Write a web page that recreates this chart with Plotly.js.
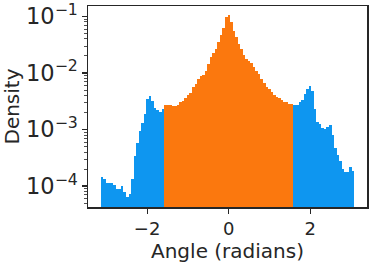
<!DOCTYPE html>
<html>
<head>
<meta charset="utf-8">
<script src="https://cdn.plot.ly/plotly-3.0.1.min.js"></script>
<style>
  html, body { margin: 0; padding: 0; background: #fff; }
  #chart { width: 373px; height: 268px; }
</style>
</head>
<body>
<div id="chart"></div>
<script>
// histogram of angles, 100 equal bins from binStart
const binStart = -3.14
const binWidth = 0.0622

// density per bin
const density = [
    1.45e-4, 1.35e-4, 1.12e-4, 1.12e-4, 1.15e-4, 1.05e-4, 8.9e-5, 8.9e-5, 1.0e-4, 7.8e-5,
    6.3e-5, 7.1e-5, 1.32e-4, 3.39e-4, 5.9e-4, 9.3e-4, 1.32e-3, 1.91e-3, 3.47e-3, 3.89e-3,
    3.24e-3, 2.40e-3, 2.19e-3, 2.04e-3, 2.34e-3,
    2.69e-3, 2.75e-3, 2.75e-3, 2.57e-3, 2.63e-3, 2.69e-3, 3.02e-3, 3.16e-3, 3.55e-3, 4.07e-3,
    4.47e-3, 5.62e-3, 6.46e-3, 7.76e-3, 8.71e-3, 9.12e-3, 1.10e-2, 1.45e-2, 1.91e-2, 2.24e-2,
    2.63e-2, 3.47e-2, 4.79e-2, 6.17e-2, 9.77e-2, 0.105, 7.94e-2, 5.62e-2, 4.27e-2, 3.31e-2,
    2.69e-2, 2.04e-2, 1.74e-2, 1.62e-2, 1.48e-2, 1.29e-2, 1.10e-2, 9.55e-3, 7.94e-3, 6.61e-3,
    5.75e-3, 5.25e-3, 4.68e-3, 4.07e-3, 3.80e-3, 3.55e-3, 3.31e-3, 3.09e-3, 3.02e-3, 2.88e-3,
    2.82e-3,
    2.75e-3, 2.75e-3, 3.09e-3, 3.31e-3, 4.17e-3, 5.25e-3, 5.89e-3, 4.79e-3, 2.29e-3, 1.38e-3,
    1.26e-3, 1.05e-3, 1.02e-3, 1.12e-3, 1.20e-3, 7.9e-4, 4.8e-4, 3.55e-4, 2.82e-4, 2.04e-4,
    1.74e-4, 1.74e-4, 2.19e-4, 1.86e-4
]

const outerColor = '#0e96f0'
const innerColor = '#fb780e'

const centers = density.map((v, i) => binStart + binWidth * (i + 0.5))
const colors = centers.map(c => Math.abs(c) > Math.PI / 2 ? outerColor : innerColor)

const axisLine = '#262626'
const tickFont = {family: 'DejaVu Sans', size: 18, color: '#262626'}
const titleFont = {family: 'DejaVu Sans', size: 20, color: '#262626'}

Plotly.newPlot('chart', [{
    type: 'bar',
    x: centers,
    y: density,
    width: binWidth,
    marker: {color: colors, line: {width: 0}},
    hoverinfo: 'skip'
}], {
    width: 373,
    height: 268,
    margin: {l: 88, r: 6, t: 6, b: 61},
    paper_bgcolor: '#fff',
    plot_bgcolor: '#fff',
    showlegend: false,
    bargap: 0,
    font: tickFont,
    xaxis: {
        range: [-3.45, 3.39],
        tickvals: [-2, 0, 2],
        ticktext: ['\u22122', '0', '2'],
        ticks: 'outside',
        ticklen: 5,
        tickwidth: 1.2,
        tickcolor: axisLine,
        showline: true,
        linecolor: axisLine,
        linewidth: 1.5,
        mirror: true,
        showgrid: false,
        zeroline: false,
        tickfont: tickFont,
        title: {text: 'Angle (radians)', font: titleFont, standoff: 2}
    },
    yaxis: {
        type: 'log',
        range: [-4.37, -0.815],
        dtick: 1,
        exponentformat: 'power',
        ticklabeloverflow: 'allow',
        ticks: 'outside',
        ticklen: 5,
        tickwidth: 1.2,
        tickcolor: axisLine,
        minor: {ticks: 'outside', ticklen: 3, tickcolor: axisLine, tickwidth: 0.8, dtick: 'D1', showgrid: false},
        showline: true,
        linecolor: axisLine,
        linewidth: 1.5,
        mirror: true,
        showgrid: false,
        zeroline: false,
        tickfont: tickFont,
        title: {text: 'Density', font: titleFont, standoff: 6}
    }
}, {staticPlot: true, displayModeBar: false})
</script>
</body>
</html>
